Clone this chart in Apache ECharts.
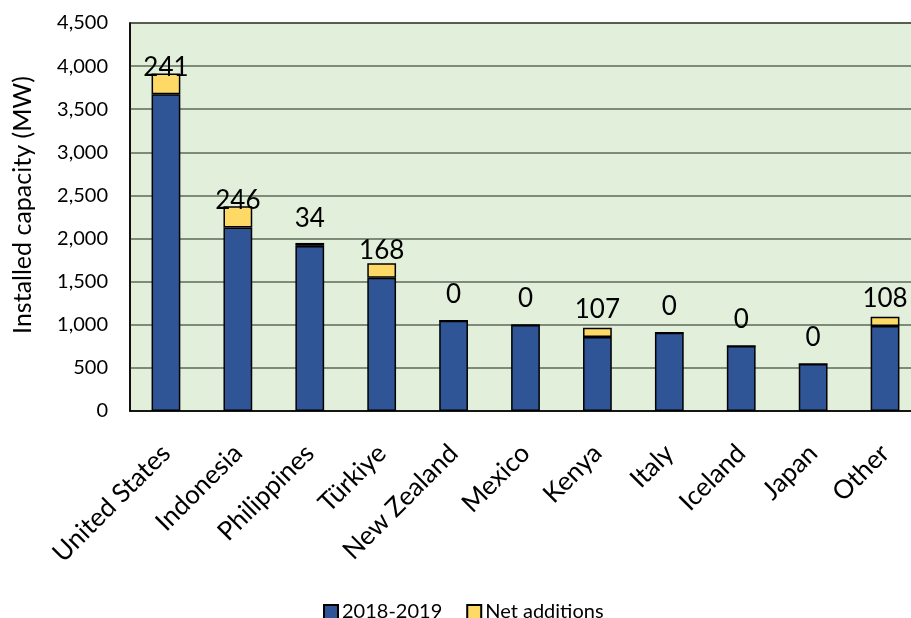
<!DOCTYPE html>
<html>
<head>
<meta charset="utf-8">
<title>Installed geothermal capacity</title>
<script src="https://cdn.jsdelivr.net/npm/echarts@6/dist/echarts.min.js"></script>
<style>
  html, body { margin: 0; padding: 0; background: #fff; overflow: hidden; }
  #chart { width: 911px; height: 618px; }
</style>
</head>
<body>
<div id="chart"></div>
<script>
// Installed capacity by country (MW)
const categories = ['United States', 'Indonesia', 'Philippines', 'Türkiye', 'New Zealand',
  'Mexico', 'Kenya', 'Italy', 'Iceland', 'Japan', 'Other'];
const capacity2019 = [3673, 2128, 1915, 1545, 1048, 997, 859, 908, 753, 545, 985];
const netAdditions = [241, 246, 34, 168, 0, 0, 107, 0, 0, 0, 108];
const seriesNames = ['2018-2019', 'Net additions'];
const yMin = 0, yMax = 4500, yStep = 500;

const FONT = 'Lato, "Open Sans", sans-serif';
const chart = echarts.init(document.getElementById('chart'), null, { renderer: 'canvas' });

chart.setOption({
  animation: false,
  textStyle: { fontFamily: FONT, color: '#000' },
  // the plot area runs on past the right edge of the canvas
  grid: {
    left: 130, top: 23, width: 791, bottom: 207,
    outerBoundsMode: 'none',
    containLabel: false,
    show: true, backgroundColor: '#e2efda', borderColor: '#000', borderWidth: 1.5
  },
  legend: {
    data: seriesNames,
    left: 318, top: 597,
    itemWidth: 14, itemHeight: 14, itemGap: 24,
    textStyle: { fontFamily: FONT, fontSize: 20, color: '#000', padding: [0, 0, 0, -1] },
    icon: 'rect'
  },
  xAxis: {
    type: 'category',
    data: categories,
    axisLine: { lineStyle: { color: '#000', width: 1.5 } },
    axisTick: { show: false },
    axisLabel: { rotate: 45, margin: 38, fontSize: 26, color: '#000', fontFamily: FONT, interval: 0 }
  },
  yAxis: {
    type: 'value',
    min: yMin, max: yMax, interval: yStep,
    name: 'Installed capacity (MW)',
    nameLocation: 'middle',
    nameGap: 95,
    nameRotate: 90,
    nameTextStyle: { fontSize: 25, color: '#000', fontFamily: FONT, padding: [0, 0, 0, 24] },
    axisLine: { show: true, lineStyle: { color: '#000', width: 1.5 } },
    axisTick: { show: false },
    axisLabel: {
      margin: 22, fontSize: 20, color: '#000', fontFamily: FONT,
      formatter: v => v.toLocaleString('en-US')
    },
    splitLine: { lineStyle: { color: '#5e6a58', width: 1.5 } }
  },
  series: [
    {
      name: seriesNames[0],
      type: 'bar',
      stack: 'total',
      data: capacity2019,
      barCategoryGap: '60%',
      itemStyle: { color: '#2f5597', borderColor: '#000', borderWidth: 1.5 }
    },
    {
      name: seriesNames[1],
      type: 'bar',
      stack: 'total',
      data: netAdditions,
      itemStyle: { color: '#ffd966', borderColor: '#000', borderWidth: 1.5 },
      label: {
        show: true,
        position: 'insideBottom',
        distance: 14,
        fontSize: 26,
        fontFamily: FONT,
        color: '#000',
        formatter: p => String(netAdditions[p.dataIndex])
      }
    }
  ]
});
</script>
</body>
</html>
